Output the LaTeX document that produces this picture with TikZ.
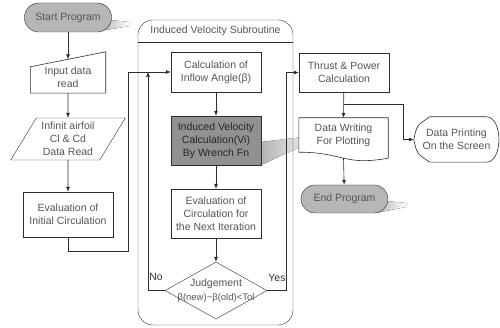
\documentclass[tikz,border=0pt]{standalone}
\usepackage{fontspec}
\setmainfont{Liberation Sans}
\usepackage{tikz}
\usetikzlibrary{shapes.geometric,arrows.meta,calc}
\definecolor{boxtext}{RGB}{85,85,85}
\definecolor{linegray}{RGB}{45,45,45}
\definecolor{termfill}{RGB}{182,182,182}
\definecolor{subfill}{RGB}{145,145,145}

\begin{document}
\begin{tikzpicture}[x=1pt,y=-1pt,
      txt/.style={font=\fontsize{10.5}{13}\selectfont,text=boxtext,align=center,inner sep=1pt},
      box/.style={txt,draw=linegray,fill=white,minimum width=90pt,minimum height=40pt},
      calcbox/.style={box,fill=subfill,text=black!85},
      termbox/.style={txt,draw=linegray,fill=termfill,rounded corners=14pt,minimum width=87pt,minimum height=29pt},
      iobox/.style={txt,trapezium,trapezium stretches=true,trapezium left angle=58,
                    trapezium right angle=122,draw=linegray,fill=white,minimum width=115pt,minimum height=42pt},
      decision/.style={diamond,draw=linegray,fill=white,minimum width=102pt,minimum height=57pt,inner sep=0pt},
      groupbox/.style={draw=linegray,rounded corners=15pt,minimum width=155pt,minimum height=305pt},
      conn/.style={draw=linegray,line width=0.6pt},
      arr/.style={conn,-{Latex[length=5pt,width=4pt]}},
      castshadow/.style={left color=gray!60,right color=white,draw=none}]
      \useasboundingbox (0,0) rectangle (500,328);

      % Shadows
      \fill[castshadow] (100,19) -- (130,22) -- (130,26) -- (100,31) -- cycle;
      \fill[castshadow] (261,142) -- (320,135) -- (320,138) -- (261,165) -- cycle;
      \fill[castshadow] (376,200) -- (406,203) -- (406,207) -- (376,213) -- cycle;

      % Subroutine frame
      \node[groupbox] (sub) at (215.5,172.5) {};
      \draw[conn] (sub.west |- 0,42) -- (sub.east |- 0,42);
      \node[txt] (subtitle) at (215.5,31) {Induced Velocity Subroutine};

      % Main program
      \node[termbox] (start) at (68,17.5) {Start Program};
      \node[txt,minimum width=75pt,minimum height=31pt] (input) at (68,77.5) {Input data\\read};
      \draw[conn] (input.south west) -- ($(input.north west)+(0,5)$) -- ($(input.north east)+(0,-10)$)
                  -- (input.south east) -- cycle;
      \coordinate (inputtop) at ($(input.north)+(0,-2.5)$);
      \node[iobox] (airfoil) at (68,139) {Infinit airfoil\\Cl \& Cd\\Data Read};
      \node[box,minimum height=45pt] (initcirc) at (68,214.5) {Evaluation of\\Initial Circulation};

      % Inside subroutine
      \node[box] (angle) at (216,72) {Calculation of\\Inflow Angle(β)};
      \node[calcbox,minimum height=49pt] (induced) at (216,140.5) {Induced Velocity\\Calculation(Vi)\\By Wrench Fn};
      \node[box,minimum height=49pt] (evalnext) at (216,213.5) {Evaluation of\\Circulation for\\the Next Iteration};
      \node[decision] (judge) at (216,290.5) {};
      \node[txt,font=\fontsize{10.5}{14}\selectfont] (judgetext) at (judge.center)
            {Judgement\\{\fontsize{9.5}{12}\selectfont β(new)−β(old)<Tol}};

      % Output side
      \node[box,minimum height=39pt] (thrust) at (344,72.5) {Thrust \& Power\\Calculation};
      \node[txt,minimum width=89pt,minimum height=42pt] (datawrite) at (343.5,139) {};
      \draw[conn,fill=white] (datawrite.north west) -- (datawrite.north east) -- ($(datawrite.south east)+(0,-2)$)
            .. controls ($(datawrite.south)+(0,6)$) and ($(datawrite.south)+(0,-8)$) .. ($(datawrite.south west)+(0,-8)$)
            coordinate[pos=0.5] (docbottom) -- cycle;
      \node[txt] (datawritetext) at ($(datawrite.center)+(0,-4)$) {Data Writing\\For Plotting};
      \node[termbox,minimum height=28pt] (endprog) at (344.5,199) {End Program};
      \node[txt,minimum width=85pt,minimum height=45pt] (dataprint) at (456.5,139.5) {Data Printing\\On the Screen};
      \draw[conn] (dataprint.west) .. controls ($(dataprint.west)+(3,-14)$) .. ($(dataprint.north west)+(16,0)$)
            -- ($(dataprint.north east)+(-13,0)$)
            .. controls ($(dataprint.north east)+(4,0)$) and ($(dataprint.south east)+(4,0)$) .. ($(dataprint.south east)+(-13,0)$)
            -- ($(dataprint.south west)+(16,0)$) .. controls ($(dataprint.west)+(3,14)$) .. (dataprint.west);

      % Turning points
      \coordinate (loopin) at (128,251);
      \coordinate (noturn) at (148,290.5);
      \coordinate (yesturn) at (286,290.5);
      \coordinate (split) at (344,104);
      \coordinate (printturn) at (403,139.5);

      \draw[arr] (start) -- (inputtop);
      \draw[arr] (input) -- (airfoil);
      \draw[arr] (airfoil) -- (initcirc);
      \draw[arr] (initcirc.south) |- (loopin) |- (angle.west);
      \draw[arr] (angle) -- (induced);
      \draw[arr] (induced) -- (evalnext);
      \draw[arr] (evalnext) -- (judge);
      \draw[arr] (judge.west) -- (noturn) -- (noturn |- angle.west);
      \draw[arr] (judge.east) -- (yesturn) |- (thrust.west);
      \draw[arr] (thrust) -- (datawrite.north);
      \draw[arr] (split) -| (printturn) -- (dataprint.west);
      \draw[arr] (docbottom) -- (endprog);

      \node[txt,text=black!80] (nolabel) at (156,277) {No};
      \node[txt,text=black!80] (yeslabel) at (277,278) {Yes};
    \end{tikzpicture}
\end{document}
